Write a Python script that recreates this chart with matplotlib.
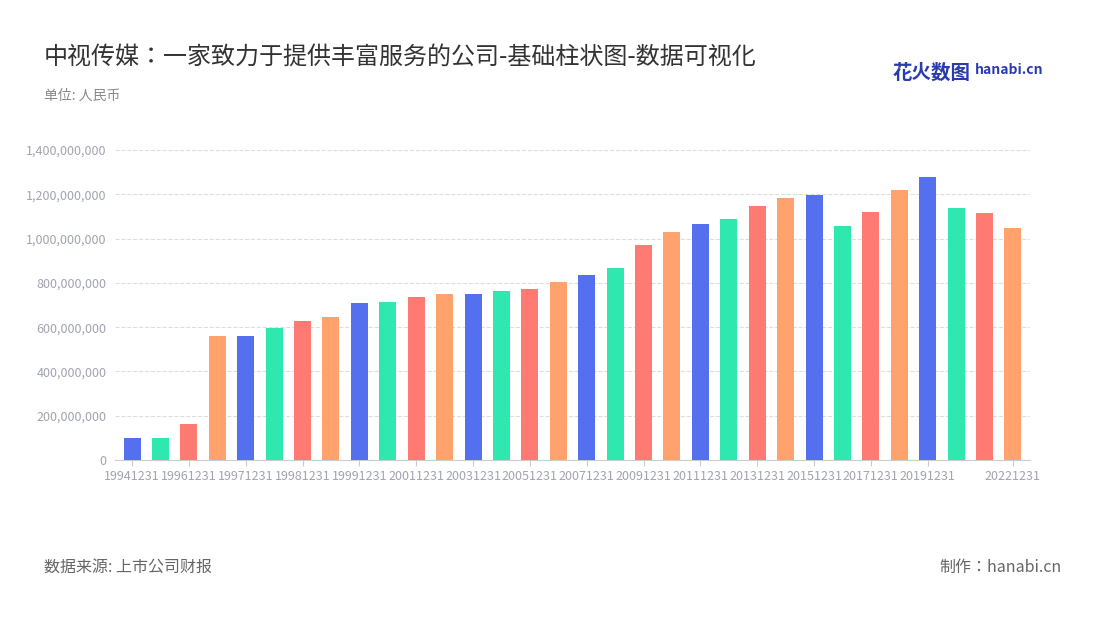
import matplotlib.pyplot as plt
import matplotlib.ticker as mticker

plt.rcParams['font.family'] = ['Noto Sans CJK SC', 'Noto Sans CJK JP', 'Noto Sans CJK TC', 'DejaVu Sans']

dates = ['19941231', '19951231', '19961231', '19970630', '19971231', '19980630', '19981231',
         '19990630', '19991231'] + [f'{y}1231' for y in range(2000, 2023)]
values = [100, 101, 163, 560, 560, 596, 628, 646, 709, 712, 736, 750, 748, 763, 772, 804,
          836, 867, 971, 1030, 1066, 1088, 1147, 1183, 1196, 1057, 1120, 1219, 1278, 1138,
          1115, 1048]
values = [v * 1e6 for v in values]
palette = ['#5470ee', '#2ee8b0', '#ff7a72', '#ffa26e']

fig = plt.figure(figsize=(11, 6.2), dpi=100)
ax = fig.add_axes([115 / 1100, 1 - 460 / 620, 915 / 1100, 310 / 620])
x = range(len(dates))
ax.bar(x, values, width=0.6, color=[palette[i % 4] for i in x], zorder=3)

ax.set_ylim(0, 1.4e9)
ax.set_xlim(-0.6, len(dates) - 0.4)
ax.yaxis.set_major_locator(mticker.MultipleLocator(2e8))
ax.yaxis.set_major_formatter(mticker.FuncFormatter(lambda v, p: f'{int(v):,}'))
ax.grid(axis='y', linestyle='--', color='#dddddd', zorder=0)
ticks = list(range(0, len(dates) - 2, 2)) + [len(dates) - 1]
ax.set_xticks(ticks)
ax.set_xticklabels([dates[i] for i in ticks])
ax.tick_params(colors='#a0a4b0', labelsize=9, length=0, pad=6)
ax.tick_params(axis='x', length=4, color='#cccccc', pad=3)
for s in ['top', 'right', 'left']:
    ax.spines[s].set_visible(False)
ax.spines['bottom'].set_color('#cccccc')

fig.text(44 / 1100, 1 - 57 / 620, '中视传媒：一家致力于提供丰富服务的公司-基础柱状图-数据可视化',
         fontsize=17.3, color='#333333', va='center')
fig.text(44 / 1100, 1 - 96 / 620, '单位: 人民币', fontsize=10, color='#888888', va='center')
fig.text(44 / 1100, 1 - 567 / 620, '数据来源: 上市公司财报', fontsize=11.5, color='#666666', va='center')
fig.text(1062 / 1100, 1 - 567 / 620, '制作：hanabi.cn', fontsize=11.5, color='#666666',
         va='center', ha='right')
fig.text(893 / 1100, 1 - 73 / 620, '花火数图', fontsize=14, color='#2a3bb0', va='center',
         fontweight='bold')
fig.text(975 / 1100, 1 - 70 / 620, 'hanabi.cn', fontsize=10, color='#2a3bb0', va='center',
         fontweight='bold')

fig.savefig('out.png')
